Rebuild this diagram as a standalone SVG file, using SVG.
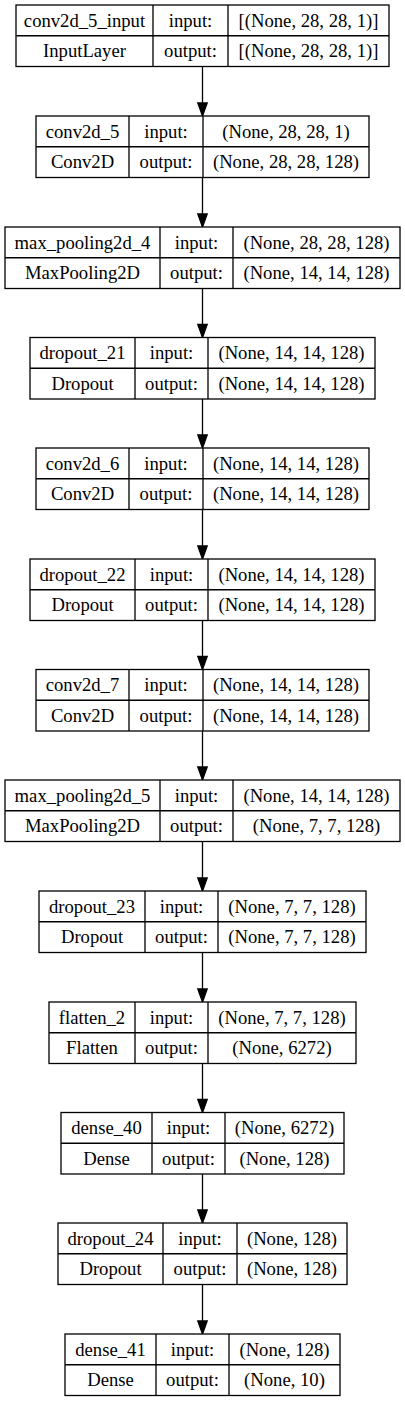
<svg xmlns="http://www.w3.org/2000/svg" width="405" height="1401" viewBox="0 0 405 1401">
<style>
.b{fill:#fff;stroke:#000;stroke-width:1.3}
.l{stroke:#000;stroke-width:1.3;fill:none}
text{font-family:"Liberation Serif","Times New Roman",serif;font-size:18.67px;fill:#000;text-anchor:middle}
.e{stroke:#000;stroke-width:1.3;fill:none}
.h{fill:#000;stroke:#000;stroke-width:1.3}
</style>
<rect width="405" height="1401" fill="#fff"/>
<g id="connectors">
<line class="e" x1="202.5" y1="66.5" x2="202.5" y2="103"/><polygon class="h" points="197.8,103 207.2,103 202.5,116"/>
<line class="e" x1="202.5" y1="177.5" x2="202.5" y2="214"/><polygon class="h" points="197.8,214 207.2,214 202.5,227"/>
<line class="e" x1="202.5" y1="288.5" x2="202.5" y2="324.5"/><polygon class="h" points="197.8,324.5 207.2,324.5 202.5,337.5"/>
<line class="e" x1="202.5" y1="399" x2="202.5" y2="435"/><polygon class="h" points="197.8,435 207.2,435 202.5,448"/>
<line class="e" x1="202.5" y1="509.5" x2="202.5" y2="546"/><polygon class="h" points="197.8,546 207.2,546 202.5,559"/>
<line class="e" x1="202.5" y1="620.5" x2="202.5" y2="656.5"/><polygon class="h" points="197.8,656.5 207.2,656.5 202.5,669.5"/>
<line class="e" x1="202.5" y1="731" x2="202.5" y2="767"/><polygon class="h" points="197.8,767 207.2,767 202.5,780"/>
<line class="e" x1="202.5" y1="841.5" x2="202.5" y2="878"/><polygon class="h" points="197.8,878 207.2,878 202.5,891"/>
<line class="e" x1="202.5" y1="952.5" x2="202.5" y2="989"/><polygon class="h" points="197.8,989 207.2,989 202.5,1002"/>
<line class="e" x1="202.5" y1="1063.5" x2="202.5" y2="1099.5"/><polygon class="h" points="197.8,1099.5 207.2,1099.5 202.5,1112.5"/>
<line class="e" x1="202.5" y1="1174" x2="202.5" y2="1210"/><polygon class="h" points="197.8,1210 207.2,1210 202.5,1223"/>
<line class="e" x1="202.5" y1="1284.5" x2="202.5" y2="1321"/><polygon class="h" points="197.8,1321 207.2,1321 202.5,1334"/>
</g>
<g id="conv2d_5_input">
<rect class="b" x="16" y="5" width="373" height="61.5"/>
<path class="l" d="M153,5V66.5M228,5V66.5M16,35.75H389"/>
<text x="84.5" y="26.5">conv2d_5_input</text><text x="84.5" y="57.2">InputLayer</text>
<text x="190.5" y="26.5">input:</text><text x="190.5" y="57.2">output:</text>
<text x="308.5" y="26.5">[(None, 28, 28, 1)]</text><text x="308.5" y="57.2">[(None, 28, 28, 1)]</text>
</g>
<g id="conv2d_5">
<rect class="b" x="36" y="116" width="333" height="61.5"/>
<path class="l" d="M129,116V177.5M203,116V177.5M36,146.75H369"/>
<text x="82.5" y="137.5">conv2d_5</text><text x="82.5" y="168.2">Conv2D</text>
<text x="166" y="137.5">input:</text><text x="166" y="168.2">output:</text>
<text x="286" y="137.5">(None, 28, 28, 1)</text><text x="286" y="168.2">(None, 28, 28, 128)</text>
</g>
<g id="max_pooling2d_4">
<rect class="b" x="5" y="227" width="395" height="61.5"/>
<path class="l" d="M160,227V288.5M233,227V288.5M5,257.75H400"/>
<text x="82.5" y="248.5">max_pooling2d_4</text><text x="82.5" y="279.2">MaxPooling2D</text>
<text x="196.5" y="248.5">input:</text><text x="196.5" y="279.2">output:</text>
<text x="316.5" y="248.5">(None, 28, 28, 128)</text><text x="316.5" y="279.2">(None, 14, 14, 128)</text>
</g>
<g id="dropout_21">
<rect class="b" x="30" y="337.5" width="345" height="61.5"/>
<path class="l" d="M135,337.5V399M208,337.5V399M30,368.25H375"/>
<text x="82.5" y="359">dropout_21</text><text x="82.5" y="389.7">Dropout</text>
<text x="171.5" y="359">input:</text><text x="171.5" y="389.7">output:</text>
<text x="291.5" y="359">(None, 14, 14, 128)</text><text x="291.5" y="389.7">(None, 14, 14, 128)</text>
</g>
<g id="conv2d_6">
<rect class="b" x="36" y="448" width="333" height="61.5"/>
<path class="l" d="M129,448V509.5M203,448V509.5M36,478.75H369"/>
<text x="82.5" y="469.5">conv2d_6</text><text x="82.5" y="500.2">Conv2D</text>
<text x="166" y="469.5">input:</text><text x="166" y="500.2">output:</text>
<text x="286" y="469.5">(None, 14, 14, 128)</text><text x="286" y="500.2">(None, 14, 14, 128)</text>
</g>
<g id="dropout_22">
<rect class="b" x="30" y="559" width="345" height="61.5"/>
<path class="l" d="M135,559V620.5M208,559V620.5M30,589.75H375"/>
<text x="82.5" y="580.5">dropout_22</text><text x="82.5" y="611.2">Dropout</text>
<text x="171.5" y="580.5">input:</text><text x="171.5" y="611.2">output:</text>
<text x="291.5" y="580.5">(None, 14, 14, 128)</text><text x="291.5" y="611.2">(None, 14, 14, 128)</text>
</g>
<g id="conv2d_7">
<rect class="b" x="36" y="669.5" width="333" height="61.5"/>
<path class="l" d="M129,669.5V731M203,669.5V731M36,700.25H369"/>
<text x="82.5" y="691">conv2d_7</text><text x="82.5" y="721.7">Conv2D</text>
<text x="166" y="691">input:</text><text x="166" y="721.7">output:</text>
<text x="286" y="691">(None, 14, 14, 128)</text><text x="286" y="721.7">(None, 14, 14, 128)</text>
</g>
<g id="max_pooling2d_5">
<rect class="b" x="5" y="780" width="395" height="61.5"/>
<path class="l" d="M160,780V841.5M233,780V841.5M5,810.75H400"/>
<text x="82.5" y="801.5">max_pooling2d_5</text><text x="82.5" y="832.2">MaxPooling2D</text>
<text x="196.5" y="801.5">input:</text><text x="196.5" y="832.2">output:</text>
<text x="316.5" y="801.5">(None, 14, 14, 128)</text><text x="316.5" y="832.2">(None, 7, 7, 128)</text>
</g>
<g id="dropout_23">
<rect class="b" x="39" y="891" width="327" height="61.5"/>
<path class="l" d="M145,891V952.5M218,891V952.5M39,921.75H366"/>
<text x="92" y="912.5">dropout_23</text><text x="92" y="943.2">Dropout</text>
<text x="181.5" y="912.5">input:</text><text x="181.5" y="943.2">output:</text>
<text x="292" y="912.5">(None, 7, 7, 128)</text><text x="292" y="943.2">(None, 7, 7, 128)</text>
</g>
<g id="flatten_2">
<rect class="b" x="49" y="1002" width="307" height="61.5"/>
<path class="l" d="M135,1002V1063.5M208,1002V1063.5M49,1032.75H356"/>
<text x="92" y="1023.5">flatten_2</text><text x="92" y="1054.2">Flatten</text>
<text x="171.5" y="1023.5">input:</text><text x="171.5" y="1054.2">output:</text>
<text x="282" y="1023.5">(None, 7, 7, 128)</text><text x="282" y="1054.2">(None, 6272)</text>
</g>
<g id="dense_40">
<rect class="b" x="61" y="1112.5" width="283" height="61.5"/>
<path class="l" d="M152,1112.5V1174M225,1112.5V1174M61,1143.25H344"/>
<text x="106.5" y="1134">dense_40</text><text x="106.5" y="1164.7">Dense</text>
<text x="188.5" y="1134">input:</text><text x="188.5" y="1164.7">output:</text>
<text x="284.5" y="1134">(None, 6272)</text><text x="284.5" y="1164.7">(None, 128)</text>
</g>
<g id="dropout_24">
<rect class="b" x="58" y="1223" width="289" height="61.5"/>
<path class="l" d="M163,1223V1284.5M237,1223V1284.5M58,1253.75H347"/>
<text x="110.5" y="1244.5">dropout_24</text><text x="110.5" y="1275.2">Dropout</text>
<text x="200" y="1244.5">input:</text><text x="200" y="1275.2">output:</text>
<text x="292" y="1244.5">(None, 128)</text><text x="292" y="1275.2">(None, 128)</text>
</g>
<g id="dense_41">
<rect class="b" x="65" y="1334" width="275" height="61.5"/>
<path class="l" d="M156,1334V1395.5M229,1334V1395.5M65,1364.75H340"/>
<text x="110.5" y="1355.5">dense_41</text><text x="110.5" y="1386.2">Dense</text>
<text x="192.5" y="1355.5">input:</text><text x="192.5" y="1386.2">output:</text>
<text x="284.5" y="1355.5">(None, 128)</text><text x="284.5" y="1386.2">(None, 10)</text>
</g>
</svg>
